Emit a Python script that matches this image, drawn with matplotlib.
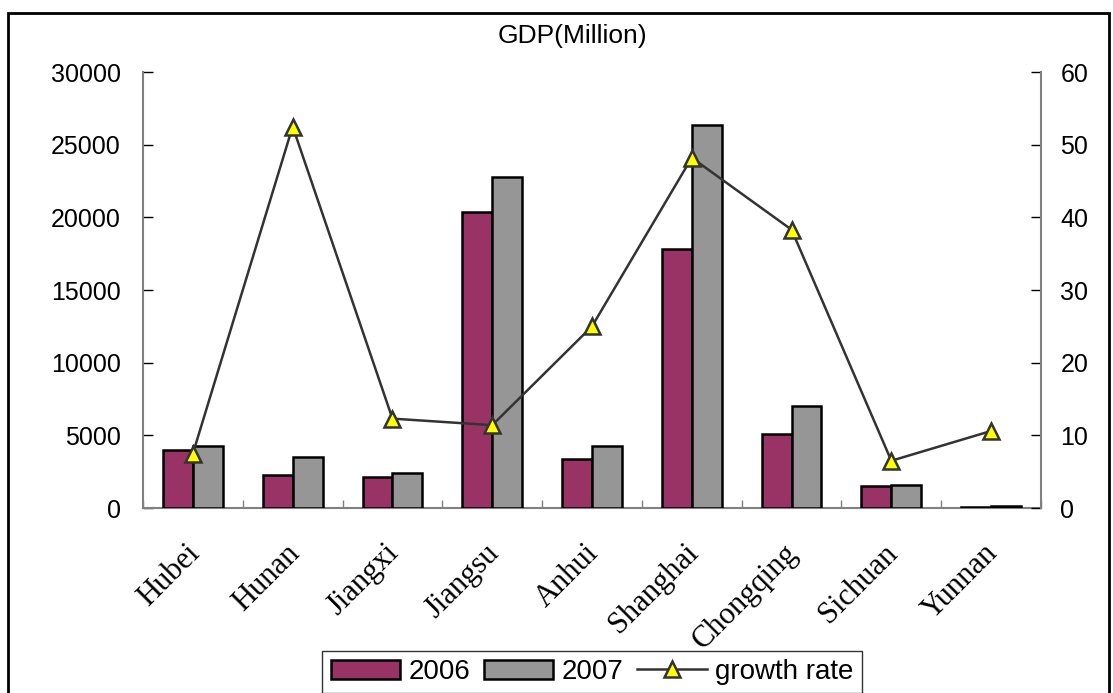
import matplotlib
matplotlib.use("Agg")
import matplotlib.pyplot as plt
from matplotlib.patches import Rectangle
from matplotlib.lines import Line2D
from matplotlib.transforms import ScaledTranslation
import numpy as np

provinces = ["Hubei", "Hunan", "Jiangxi", "Jiangsu", "Anhui",
             "Shanghai", "Chongqing", "Sichuan", "Yunnan"]
gdp_2006 = [4000, 2300, 2160, 20350, 3400, 17820, 5080, 1480, 100]
gdp_2007 = [4300, 3480, 2430, 22750, 4250, 26350, 7020, 1590, 110]
growth_rate = [7.5, 52.5, 12.3, 11.4, 25.0, 48.2, 38.3, 6.5, 10.6]

SANS = "Liberation Sans"
SERIF = "Liberation Serif"

fig = plt.figure(figsize=(11.13, 6.93), dpi=100)
ax = fig.add_axes([143 / 1113, 1 - 508 / 693, (1041 - 143) / 1113, (508 - 72) / 693])

x = np.arange(len(provinces))
w = 0.3
ax.bar(x - w / 2, gdp_2006, w, color="#993366", edgecolor="black", linewidth=1.8,
       label="2006", zorder=3)
ax.bar(x + w / 2, gdp_2007, w, color="#969696", edgecolor="black", linewidth=1.8,
       label="2007", zorder=3)

ax.set_xlim(-0.5, len(provinces) - 0.5)
ax.set_ylim(0, 30000)
ax.set_yticks(np.arange(0, 30001, 5000))
ax.set_yticklabels([str(v) for v in range(0, 30001, 5000)], fontfamily=SANS, fontsize=18)

# category labels under the groups, separators between the groups
ax.set_xticks(x)
ax.set_xticklabels(provinces, rotation=45, ha="right", va="top", rotation_mode="anchor",
                   fontfamily=SERIF, fontsize=22)
ax.tick_params(axis="x", length=0, pad=22)
shift = ScaledTranslation(-0.08, 0, fig.dpi_scale_trans)
for lab in ax.get_xticklabels():
    lab.set_transform(lab.get_transform() + shift)
ax.set_xticks(np.arange(-0.5, len(provinces), 1.0), minor=True)
ax.tick_params(axis="x", which="minor", direction="in", length=6, color="#808080", width=1)
ax.tick_params(axis="y", direction="in", length=7, color="black", width=1, pad=16)

for side in ["left", "bottom"]:
    ax.spines[side].set_color("#808080")
    ax.spines[side].set_linewidth(1.5)
ax.spines["top"].set_visible(False)
ax.spines["right"].set_visible(False)

ax2 = ax.twinx()
ax2.plot(x, growth_rate, color="#333333", linewidth=1.8, marker="^", markersize=11,
         markerfacecolor="#FFFF00", markeredgecolor="#333333", markeredgewidth=1.8,
         label="growth rate", zorder=3)
ax2.set_ylim(0, 60)
ax2.set_yticks(np.arange(0, 61, 10))
ax2.set_yticklabels([str(v) for v in range(0, 61, 10)], fontfamily=SANS, fontsize=18)
ax2.tick_params(axis="y", direction="in", length=7, color="black", width=1, pad=14)
ax2.spines["right"].set_color("#808080")
ax2.spines["right"].set_linewidth(1.5)
for side in ["left", "bottom", "top"]:
    ax2.spines[side].set_visible(False)

fig.text(572 / 1113, 1 - 36 / 693, "GDP(Million)", ha="center", va="center",
         fontfamily=SANS, fontsize=19)

handles = [
    Rectangle((0, 0), 1, 1, facecolor="#993366", edgecolor="black", linewidth=1.8),
    Rectangle((0, 0), 1, 1, facecolor="#969696", edgecolor="black", linewidth=1.8),
    Line2D([], [], color="#333333", linewidth=1.8, marker="^", markersize=11,
           markerfacecolor="#FFFF00", markeredgecolor="#333333", markeredgewidth=1.8),
]
leg = fig.legend(handles, ["2006", "2007", "growth rate"], loc="center",
                 bbox_to_anchor=(592 / 1113, 1 - 672 / 693), ncol=3,
                 prop={"family": SANS, "size": 20}, frameon=True, fancybox=False,
                 handlelength=2.5, handleheight=0.7, handletextpad=0.3,
                 columnspacing=0.5, borderpad=0.3, borderaxespad=0)
leg.get_frame().set_edgecolor("black")
leg.get_frame().set_linewidth(1.0)

# outer chart frame
fig.patches.append(Rectangle((8 / 1113, -0.02), (1109 - 8) / 1113, 1.02 - 13 / 693,
                             transform=fig.transFigure, fill=False,
                             edgecolor="black", linewidth=2.0))

fig.savefig("out.png", dpi=100)
